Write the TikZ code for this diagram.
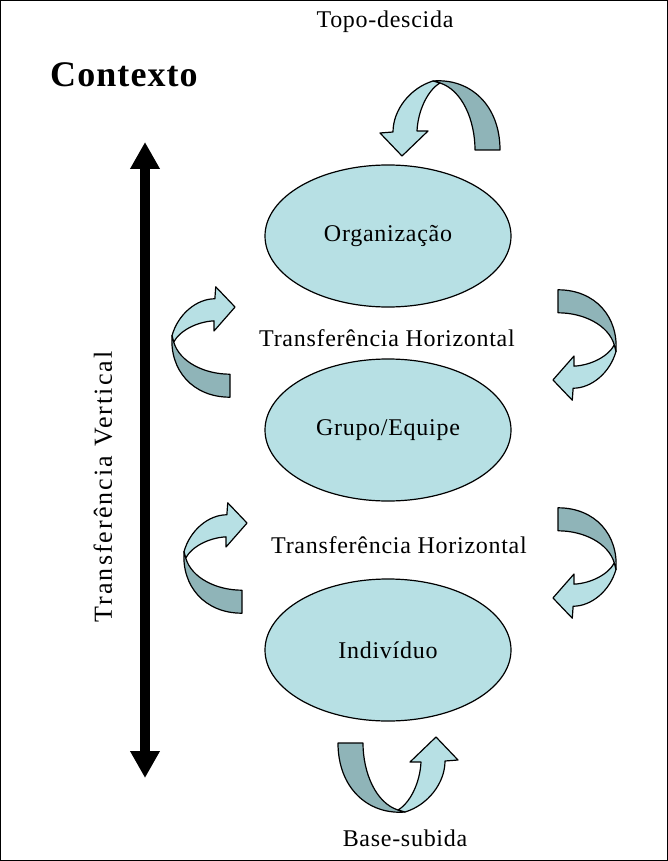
\documentclass[tikz,border=0pt]{standalone}
\usepackage{fontspec}
\setmainfont{Liberation Serif}[LetterSpace=3.0]
\usetikzlibrary{shapes.geometric,arrows.meta}
\definecolor{lightband}{RGB}{183,224,228}
\definecolor{darkband}{RGB}{143,180,184}
\tikzset{
  curved arrow/.pic={
    % back of the ribbon
    \filldraw[fill=darkband, draw=black, line width=1.2pt, line join=round]
      (60,0) .. controls (60,-45) and (30,-72) .. (-7,-69) -- (0,-67)
      .. controls (22,-60) and (35,-30) .. (35,0) -- cycle;
    % front of the ribbon with its head
    \filldraw[fill=lightband, draw=black, line width=1.2pt, line join=round]
      (-7,-69) .. controls (-30,-62) and (-47,-40) .. (-47,-18) -- (-60,-17)
      -- (-38,6) -- (-12,-19) -- (-23,-19)
      .. controls (-22,-40) and (-12,-60) .. (0,-67) -- cycle;
  }
}
\begin{document}
\begin{tikzpicture}[x=1pt,y=-1pt,
                    level node/.style={ellipse,fill=lightband,draw=black,line width=1.2pt,
                                       minimum width=246pt,minimum height=142pt,inner sep=0pt,
                                       font=\fontsize{24}{28}\selectfont},
                    label text/.style={inner sep=0pt,font=\fontsize{24}{28}\selectfont}
                   ]
      \useasboundingbox (0,0) rectangle (668,861);
      \draw[line width=1.2pt] (0.6,0.6) rectangle (667.4,860.4);
      \node[inner sep=0pt,font=\bfseries\fontsize{36}{40}\selectfont] (contexto) at (124,75) {Contexto};
      \node[label text] (topo) at (385,22) {Topo-descida};
      \node[level node] (org) at (388,236) {Organização};
      \node[label text] (th1) at (387,338) {Transferência Horizontal};
      \node[level node] (grupo) at (388,430) {Grupo/Equipe};
      \node[label text] (th2) at (399,545) {Transferência Horizontal};
      \node[level node] (ind) at (388,650) {Indivíduo};
      \node[label text] (base) at (405,838) {Base-subida};
      \node[label text,rotate=90,font=\fontsize{26}{30}\selectfont\addfontfeature{LetterSpace=8}] (tv) at (103,487) {Transferência Vertical};
      % vertical transfer
      \coordinate (vtop) at (145,142);
      \coordinate (vbot) at (145,778);
      \draw[line width=10pt,{Triangle[width=28pt,length=27pt]}-{Triangle[width=28pt,length=27pt]}] (vtop) -- (vbot);
      % ribbons
      \pic at (440,150) {curved arrow};
      \pic[rotate=180] at (398,743) {curved arrow};
      \pic[rotate=90,xscale=-0.92,yscale=0.84] at (230,342) {curved arrow};
      \pic[rotate=90,xscale=-0.92,yscale=0.84] at (242,558) {curved arrow};
      \pic[rotate=-90,xscale=-0.92,yscale=0.84] at (558,345) {curved arrow};
      \pic[rotate=-90,xscale=-0.92,yscale=0.84] at (558,563) {curved arrow};
\end{tikzpicture}
\end{document}
